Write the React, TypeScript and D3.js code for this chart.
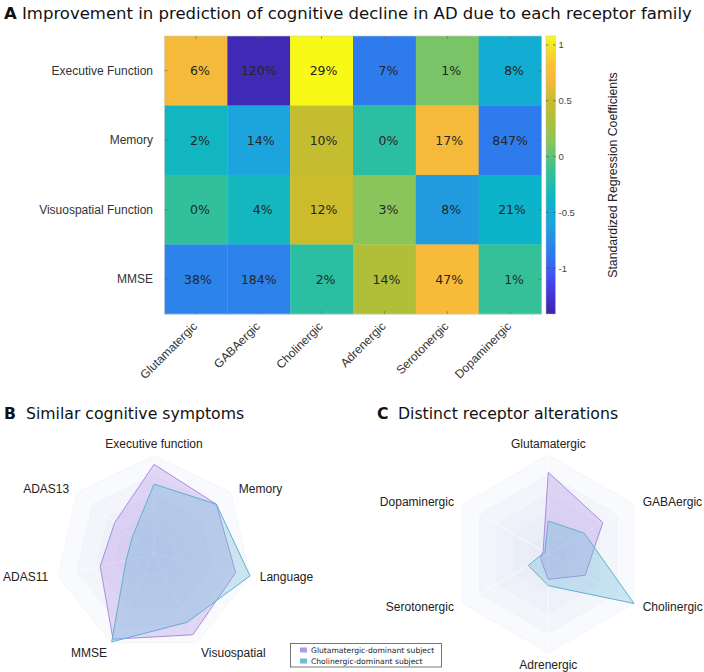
import * as d3 from 'd3';

// ---- panel A: heatmap ----
const receptors = ['Glutamatergic', 'GABAergic', 'Cholinergic', 'Adrenergic', 'Serotonergic', 'Dopaminergic'];
const outcomes = ['Executive Function', 'Memory', 'Visuospatial Function', 'MMSE'];

// standardized regression coefficients, one array per outcome
const coefExecutive = [0.71, -1.36, 1.07, -0.86, 0.08, -0.49];
const coefMemory = [-0.36, -0.59, 0.46, -0.19, 0.71, -0.86];
const coefVisuospatial = [-0.16, -0.34, 0.51, 0.13, -0.66, -0.41];
const coefMMSE = [-0.81, -0.82, -0.19, 0.33, 0.72, -0.14];

// improvement in prediction, printed in each cell
const gainExecutive = ['6%', '120%', '29%', '7%', '1%', '8%'];
const gainMemory = ['2%', '14%', '10%', '0%', '17%', '847%'];
const gainVisuospatial = ['0%', '4%', '12%', '3%', '8%', '21%'];
const gainMMSE = ['38%', '184%', '2%', '14%', '47%', '1%'];

const colorbarTicks = [-1, -0.5, 0, 0.5, 1];
const colorLimits = [-1.41, 1.08];

// ---- panels B and C: radar charts ----
const symptomAxes = ['Executive function', 'Memory', 'Language', 'Visuospatial', 'MMSE', 'ADAS11', 'ADAS13'];
const symptomsGlut = [0.91, 0.81, 0.85, 0.91, 0.96, 0.56, 0.51];
const symptomsChol = [0.71, 0.81, 1.0, 0.77, 0.99, 0.29, 0.28];

const receptorAxes = ['Glutamatergic', 'GABAergic', 'Cholinergic', 'Adrenergic', 'Serotonergic', 'Dopaminergic'];
const receptorsGlut = [0.825, 0.636, 0.43, 0.256, 0.09, 0.06];
const receptorsChol = [0.333, 0.42, 1.0, 0.32, 0.233, 0.04];

const subjects = ['Glutamatergic-dominant subject', 'Cholinergic-dominant subject'];
const ringLevels = [0.2, 0.4, 0.6, 0.8, 1.0];

// parula-like colormap stops
const parulaStops = [
  [0.0, '#3e26a8'], [0.07, '#4535d6'], [0.14, '#4352f5'], [0.2, '#2f73f0'],
  [0.26, '#2a8ae6'], [0.33, '#1ca5dc'], [0.4, '#0bb3ca'], [0.47, '#22bcae'],
  [0.54, '#45c386'], [0.62, '#8bc55a'], [0.7, '#b0bf39'], [0.77, '#cbbc2c'],
  [0.84, '#f5b83c'], [0.9, '#fbc332'], [0.95, '#f4dd28'], [1.0, '#f9fb15'],
] as [number, string][];

const SANS = "'Liberation Sans', Arial, sans-serif";
const VERD = "'DejaVu Sans', Verdana, sans-serif";

const seriesStroke = ['#a98ddf', '#62b1cc'];
const seriesFill = ['rgba(172,134,230,0.3)', 'rgba(104,182,216,0.32)'];
const swatch = ['#b497e6', '#6dbbd9'];

function Radar({ cx, cy, R, axes, series }: { cx: number; cy: number; R: number; axes: string[]; series: number[][] }) {
  const n = axes.length;
  const r = d3.scaleLinear().domain([0, 1]).range([0, R]);
  const ang = (i: number) => (i * 2 * Math.PI) / n;
  const line = d3.lineRadial<number>()
    .angle((_, i) => ang(i))
    .radius(d => r(d))
    .curve(d3.curveLinearClosed);
  return (
    <g transform={`translate(${cx},${cy})`}>
      {ringLevels.slice().reverse().map(l => (
        <path key={l} d={line(axes.map(() => l)) || ''} fill="rgba(214,219,238,0.14)" stroke="rgba(232,234,243,0.8)" strokeWidth={0.5} />
      ))}
      {axes.map((_, i) => (
        <line key={i} x1={0} y1={0} x2={r(1) * Math.sin(ang(i))} y2={-r(1) * Math.cos(ang(i))} stroke="rgba(255,255,255,0.7)" strokeWidth={1} />
      ))}
      {series.map((s, k) => (
        <path key={k} d={line(s) || ''} fill={seriesFill[k]} stroke={seriesStroke[k]} strokeWidth={1} />
      ))}
      {axes.map((a, i) => {
        const s = Math.sin(ang(i));
        const c = Math.cos(ang(i));
        const vx = r(1) * s;
        const vy = -r(1) * c;
        const anchor = s > 0.2 ? 'start' : s < -0.2 ? 'end' : 'middle';
        const yc = Math.abs(s) < 0.5 ? vy - c * 11.5 : vy - c * 6;
        return (
          <text key={a} x={vx + s * 10} y={yc} dy="0.35em" textAnchor={anchor} fontFamily={SANS} fontSize={12} fill="#222">
            {a}
          </text>
        );
      })}
    </g>
  );
}

export default function App() {
  const coefs = [coefExecutive, coefMemory, coefVisuospatial, coefMMSE];
  const gains = [gainExecutive, gainMemory, gainVisuospatial, gainMMSE];

  const x = d3.scaleBand().domain(receptors).range([164.5, 541.5]);
  const y = d3.scaleBand().domain(outcomes).range([36, 314]);
  const tPos = d3.scaleLinear().domain(colorLimits).range([0, 1]);
  const stopScale = d3.scaleLinear<string>()
    .domain(parulaStops.map(s => s[0]))
    .range(parulaStops.map(s => s[1]))
    .interpolate(d3.interpolateRgb)
    .clamp(true);
  const color = (v: number) => stopScale(tPos(v));
  const cbY = d3.scaleLinear().domain(colorLimits).range([314, 36]);
  const cbX = 546;
  const cbW = 9.5;
  const bw = x.bandwidth();
  const bh = y.bandwidth();

  return (
    <svg width={704} height={672} style={{ position: 'absolute', left: 0, top: 0, background: '#fff' }}>
      <defs>
        <linearGradient id="parula" x1="0" y1="1" x2="0" y2="0">
          {parulaStops.map(([t, c]) => <stop key={t} offset={t} stopColor={c} />)}
        </linearGradient>
      </defs>

      {/* panel A title */}
      <text x={4} y={19} fontFamily={VERD} fontSize={16.5} fill="#111">
        <tspan fontWeight="bold">A</tspan>
        <tspan x={22}>Improvement in prediction of cognitive decline in AD due to each receptor family</tspan>
      </text>

      {/* heatmap cells */}
      {outcomes.map((o, r) =>
        receptors.map((rc, c) => (
          <rect key={o + rc} x={x(rc)} y={y(o)} width={bw + 0.3} height={bh + 0.3} fill={color(coefs[r][c])} />
        ))
      )}
      {outcomes.map((o, r) =>
        receptors.map((rc, c) => (
          <text key={'t' + o + rc} x={(x(rc) || 0) + bw / 2} y={(y(o) || 0) + bh / 2} dy="0.36em" textAnchor="middle"
            fontFamily={VERD} fontSize={12.5} fill="#262626" style={{ whiteSpace: 'pre' }}>
            {gains[r][c].padStart(4, ' ')}
          </text>
        ))
      )}
      <rect x={164.5} y={36} width={377} height={278} fill="none" stroke="#c9c9c9" strokeWidth={0.6} />
      {/* ticks */}
      {receptors.map(rc => {
        const cx = (x(rc) || 0) + bw / 2;
        return (
          <g key={'xt' + rc} stroke="#666" strokeWidth={0.6}>
            <line x1={cx} x2={cx} y1={314} y2={311} />
            <line x1={cx} x2={cx} y1={36} y2={39} />
          </g>
        );
      })}
      {outcomes.map(o => {
        const cy = (y(o) || 0) + bh / 2;
        return (
          <g key={'yt' + o} stroke="#666" strokeWidth={0.6}>
            <line x1={164.5} x2={167.5} y1={cy} y2={cy} />
            <line x1={541.5} x2={538.5} y1={cy} y2={cy} />
          </g>
        );
      })}
      {outcomes.map(o => (
        <text key={'yl' + o} x={153} y={(y(o) || 0) + bh / 2} dy="0.35em" textAnchor="end" fontFamily={SANS} fontSize={12} fill="#333">
          {o}
        </text>
      ))}
      {receptors.map(rc => {
        const cx = (x(rc) || 0) + bw / 2;
        return (
          <text key={'xl' + rc} transform={`translate(${cx + 2},${327}) rotate(-45)`} textAnchor="end" fontFamily={SANS} fontSize={12} fill="#333">
            {rc}
          </text>
        );
      })}

      {/* colorbar */}
      <rect x={cbX} y={36} width={cbW} height={278} fill="url(#parula)" stroke="#bbb" strokeWidth={0.5} />
      {colorbarTicks.map(t => (
        <g key={'cb' + t}>
          <line x1={cbX} x2={cbX + 2.5} y1={cbY(t)} y2={cbY(t)} stroke="#444" strokeWidth={0.6} />
          <line x1={cbX + cbW} x2={cbX + cbW - 2.5} y1={cbY(t)} y2={cbY(t)} stroke="#444" strokeWidth={0.6} />
          <text x={cbX + cbW + 3} y={cbY(t)} dy="0.35em" fontFamily={SANS} fontSize={9.5} fill="#444">{t}</text>
        </g>
      ))}
      <text transform="translate(617,175) rotate(-90)" textAnchor="middle" fontFamily={SANS} fontSize={12.3} fill="#222">
        Standardized Regression Coefficients
      </text>

      {/* panel B */}
      <text x={4} y={419} fontFamily={VERD} fontSize={15.7} fill="#111">
        <tspan fontWeight="bold">B</tspan>
        <tspan x={26}>Similar cognitive symptoms</tspan>
      </text>
      <Radar cx={154} cy={554} R={98.5} axes={symptomAxes} series={[symptomsGlut, symptomsChol]} />

      {/* panel C */}
      <text x={377} y={419} fontFamily={VERD} fontSize={15.7} fill="#111">
        <tspan fontWeight="bold">C</tspan>
        <tspan x={398}>Distinct receptor alterations</tspan>
      </text>
      <Radar cx={548.3} cy={554} R={99} axes={receptorAxes} series={[receptorsGlut, receptorsChol]} />

      {/* legend */}
      <rect x={290.5} y={643.5} width={151} height={23.5} fill="#fff" stroke="#555" strokeWidth={0.8} />
      {subjects.map((s, i) => (
        <g key={s}>
          <rect x={300} y={647.5 + i * 11} width={7} height={5} fill={swatch[i]} />
          <text x={311} y={650 + i * 11} dy="0.35em" fontFamily={VERD} fontSize={7.6} fill="#222">{s}</text>
        </g>
      ))}
    </svg>
  );
}
